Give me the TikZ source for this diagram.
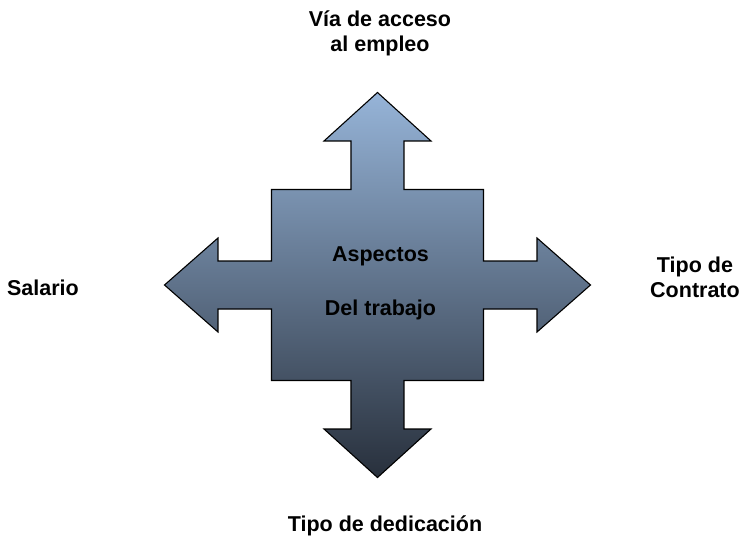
\documentclass[tikz,border=0pt]{standalone}
\usepackage{fontspec}
\setmainfont{Liberation Sans}
\usepackage{tikz}
\usetikzlibrary{positioning}

\definecolor{armtop}{RGB}{150,180,216}
\definecolor{armmid}{RGB}{120,141,170}
\definecolor{armbot}{RGB}{40,48,60}

\begin{document}
\begin{tikzpicture}[
    x=1pt, y=1pt,
    cross/.style={
        draw=black,
        line width=1.1pt,
        line join=miter,
        top color=armtop,
        middle color=armmid,
        bottom color=armbot
    },
    label/.style={
        font=\fontsize{21.5}{25}\selectfont\bfseries,
        align=center,
        inner sep=0pt
    }
]

% ===== marco =====
\useasboundingbox (-377.5,-251) rectangle (364.5,285);

% ===== cruz de cuatro flechas =====
\draw[cross]
    (0,192.5) -- (53.5,144) -- (26.5,144) -- (26.5,95.5)
    -- (106,95.5) -- (106,24) -- (159.5,24) -- (159.5,47)
    -- (213,0) -- (159.5,-47) -- (159.5,-24) -- (106,-24)
    -- (106,-95.5) -- (26.5,-95.5) -- (26.5,-144) -- (53.5,-144)
    -- (0,-192.5) -- (-53.5,-144) -- (-26.5,-144) -- (-26.5,-95.5)
    -- (-106,-95.5) -- (-106,-24) -- (-159.5,-24) -- (-159.5,-47)
    -- (-213,0) -- (-159.5,47) -- (-159.5,24) -- (-106,24)
    -- (-106,95.5) -- (-26.5,95.5) -- (-26.5,144) -- (-53.5,144)
    -- cycle;

% ===== texto central =====
\node[label] (centro) at (3,1.7) {Aspectos\\[29pt]Del trabajo};

% ===== etiquetas de los brazos =====
\node[label] (acceso) at (2.5,252) {Vía de acceso\\al empleo};
\node[label] (contrato) at (317.5,8) {Tipo de\\Contrato};
\node[label, anchor=base] (salario) at (-334.5,-10.7) {Salario};
\node[label, anchor=base] (dedicacion) at (7.5,-246.7) {Tipo de dedicación};

\end{tikzpicture}
\end{document}
